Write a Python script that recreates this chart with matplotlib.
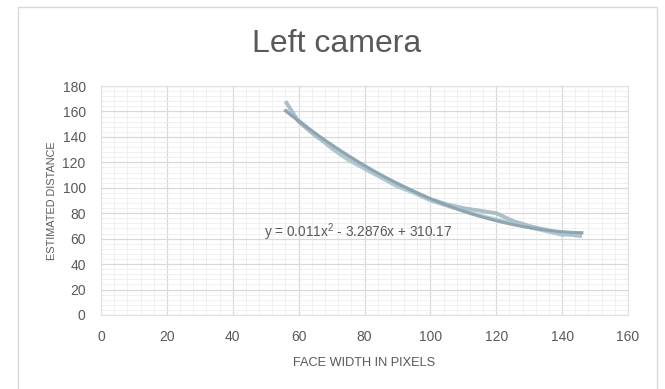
import matplotlib
matplotlib.use("Agg")
import matplotlib.pyplot as plt
import numpy as np
from matplotlib.patches import Rectangle
from matplotlib.ticker import MultipleLocator

# face width (px) vs estimated distance, two measured runs
face_width = [56, 60, 65, 70, 75, 80, 85, 90, 95, 100, 105, 110, 115, 120, 125, 130, 135, 140, 146]
dist_run1 = [168, 152, 141, 132, 124, 116, 109, 103, 97, 91, 87, 84, 82, 80, 74, 70, 67, 64, 62]
dist_run2 = [161, 153, 142, 131, 122, 115, 108, 101, 96, 90, 86, 82, 78, 75, 72, 69, 66, 63, 64]

# polynomial trendline coefficients (order 2)
trend_coef = [0.011, -3.2876, 310.17]
trend_label = "y = 0.011x$^2$ - 3.2876x + 310.17"

plt.rcParams['font.family'] = ['Liberation Sans', 'DejaVu Sans']
plt.rcParams['mathtext.fontset'] = 'custom'
plt.rcParams['mathtext.rm'] = 'Liberation Sans'
grey = "#595959"

fig = plt.figure(figsize=(6.65, 3.89), dpi=100)
ax = fig.add_axes([101 / 665, 74 / 389, 527 / 665, 229 / 389])

# chart frame
fig.patches.append(Rectangle((18 / 665, -0.05), (657 - 18) / 665, 1.05 - 7 / 389,
                             transform=fig.transFigure, fill=False,
                             edgecolor="#d9d9d9", linewidth=1.0))

ax.plot(face_width, dist_run1, color="#a3b9c4", linewidth=2.8, solid_capstyle="butt", alpha=0.9)
ax.plot(face_width, dist_run2, color="#acc6ce", linewidth=2.8, solid_capstyle="butt", alpha=0.9)
xt = np.linspace(face_width[0], face_width[-1], 200)
ax.plot(xt, np.polyval(trend_coef, xt), color="#8aa0ad", linewidth=2.2, alpha=0.9)

ax.text(78, 65, trend_label, ha="center", va="center", fontsize=9.8, color=grey)

ax.set_xlim(0, 160)
ax.set_ylim(0, 180)
ax.xaxis.set_major_locator(MultipleLocator(20))
ax.yaxis.set_major_locator(MultipleLocator(20))
ax.xaxis.set_minor_locator(MultipleLocator(4))
ax.yaxis.set_minor_locator(MultipleLocator(4))
ax.grid(which="major", color="#d9d9d9", linewidth=0.9)
ax.grid(which="minor", color="#eeeeee", linewidth=0.6)
ax.set_axisbelow(True)
for s in ax.spines.values():
    s.set_color("#e0e0e0")
    s.set_linewidth(0.8)
ax.tick_params(which="both", length=0, labelsize=10, labelcolor=grey, pad=11)

fig.text(337 / 665, 1 - 44 / 389, "Left camera", fontsize=23, color=grey,
         ha="center", va="center")
ax.set_xlabel("FACE WIDTH IN PIXELS", fontsize=9.2, color=grey, labelpad=9)
ax.set_ylabel("ESTIMATED DISTANCE", fontsize=7.8, color=grey, labelpad=4)

plt.savefig("out.png", dpi=100)
plt.close()
